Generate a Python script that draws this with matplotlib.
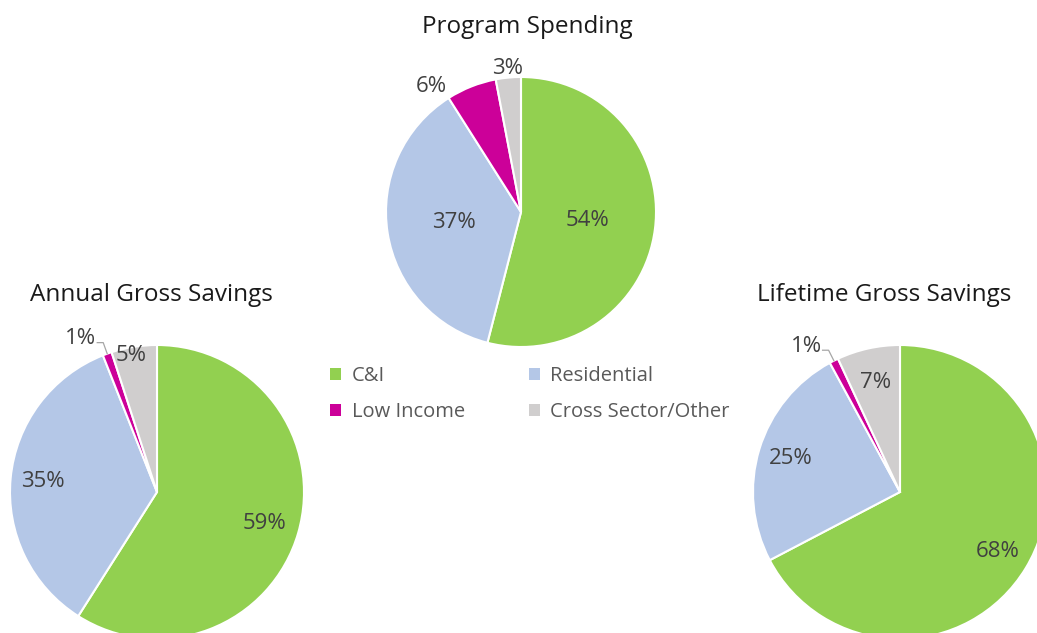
import numpy as np
import matplotlib.pyplot as plt
from matplotlib.patches import Patch

plt.rcParams['font.family'] = ['Open Sans', 'DejaVu Sans']

# data
categories = ['C&I', 'Residential', 'Low Income', 'Cross Sector/Other']
program_spending = [54, 37, 6, 3]
annual_savings = [59, 35, 1, 5]
lifetime_savings = [68, 25, 1, 7]

colors = ['#92D050', '#B4C7E7', '#CC0099', '#D0CECE']
W, H = 1037, 633

fig = plt.figure(figsize=(W / 100, H / 100), dpi=100)
ax = fig.add_axes([0, 0, 1, 1])


def draw_pie(values, center, radius, title, title_dx, dists, nudges, leader=None):
    wedges, _ = ax.pie(values, colors=colors, startangle=90, counterclock=False,
                       center=center, radius=radius,
                       wedgeprops=dict(edgecolor='white', linewidth=1.5))
    for i, (w, v) in enumerate(zip(wedges, values)):
        ang = np.deg2rad((w.theta1 + w.theta2) / 2)
        if i == leader:
            # small slice: label outside with an elbow line
            p0 = (center[0] + radius * np.cos(ang), center[1] + radius * np.sin(ang))
            p1 = (center[0] + 1.08 * radius * np.cos(ang), center[1] + 1.08 * radius * np.sin(ang))
            p2 = (p1[0] - 6, p1[1])
            ax.plot([p0[0], p1[0], p2[0]], [p0[1], p1[1], p2[1]], color='#A6A6A6', lw=0.9)
            ax.text(p2[0] - 1, p2[1] + 4, f'{v}%', ha='right', va='center',
                    fontsize=16, color='#404040')
            continue
        x = center[0] + dists[i] * radius * np.cos(ang) + nudges[i]
        y = center[1] + dists[i] * radius * np.sin(ang)
        ax.text(x, y, f'{v}%', ha='center', va='center', fontsize=16, color='#404040')
    ax.text(center[0] + title_dx, center[1] + radius + 50, title, ha='center', va='center',
            fontsize=17.5, color='#1a1a1a')
    return wedges


wedges = draw_pie(program_spending, (521, H - 212), 135, 'Program Spending', 6,
                  [0.5, 0.5, 1.0, 1.07], [0, 0, -40, 0])
draw_pie(annual_savings, (157, H - 492), 147, 'Annual Gross Savings', -6,
         [0.76, 0.78, 0, 0.94], [0, 0, 0, -4], leader=2)
draw_pie(lifetime_savings, (900, H - 492), 147, 'Lifetime Gross Savings', -16,
         [0.78, 0.78, 0, 0.76], [0, 0, 0, 0], leader=2)

ax.set_xlim(0, W)
ax.set_ylim(0, H)
ax.set_aspect('equal')
ax.axis('off')

# legend is filled column by column: reorder so rows read C&I/Residential, Low Income/Other
order = [0, 2, 1, 3]
handles = [Patch(facecolor=colors[i], edgecolor='none') for i in order]
fig.legend(handles, [categories[i] for i in order], ncol=2, loc='center',
           bbox_to_anchor=(530 / W, 1 - 394 / H),
           frameon=False, fontsize=14.5, labelcolor='#595959', handlelength=0.55,
           handleheight=0.55, handletextpad=0.5, columnspacing=3.2, labelspacing=0.8)

fig.savefig('out.png', dpi=100)
